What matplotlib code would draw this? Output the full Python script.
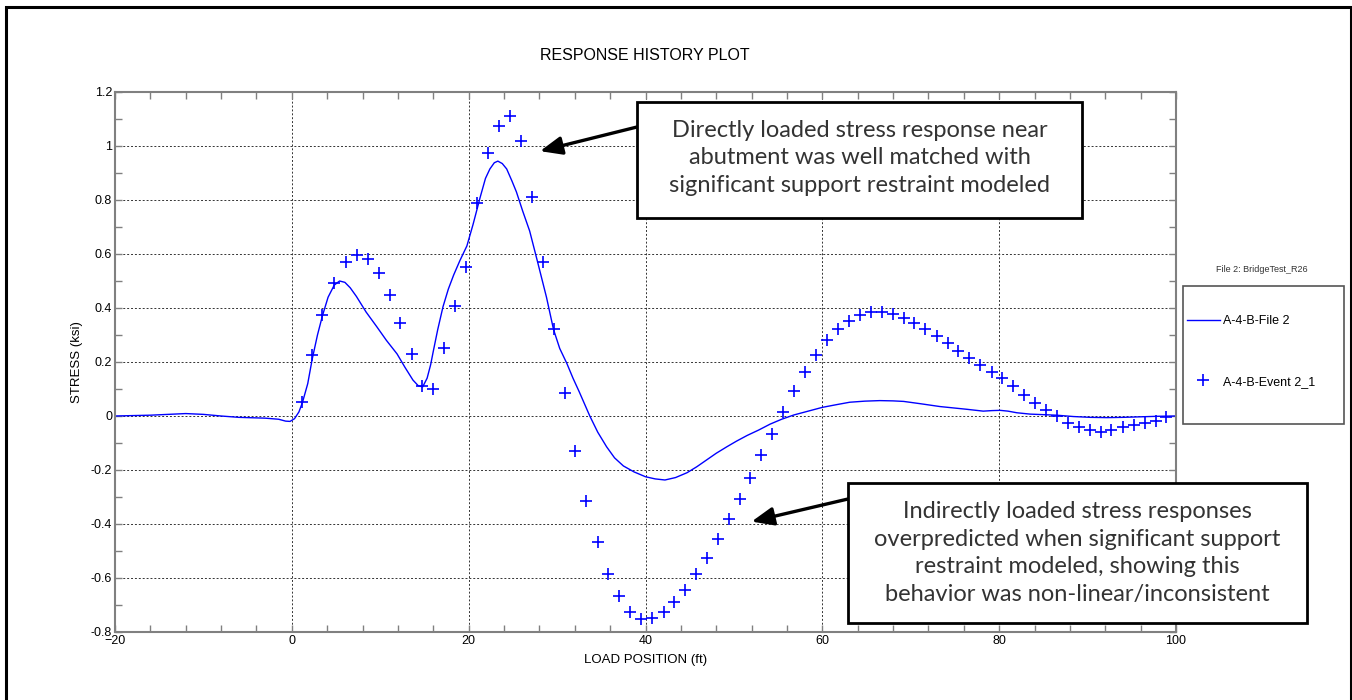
import numpy as np
import matplotlib.pyplot as plt
from matplotlib.patches import Rectangle
from matplotlib.ticker import MultipleLocator

# A-4-B-File 2 (model, solid line)
file_x = [-20, -16, -12, -10, -8, -6, -3, -1.5, -0.7, -0.2, 0.3, 0.8, 1.2, 1.8, 2.3, 2.9,
          3.45, 4.1, 4.8, 5.4, 6.0, 6.6, 7.3, 8.4, 9.6, 10.7, 11.9, 12.8, 13.7, 14.3, 14.8,
          15.3, 15.7, 16.0, 16.5, 17.1, 17.7, 18.3, 19.0, 19.8, 20.5, 21.3, 21.9, 22.4,
          22.9, 23.3, 23.8, 24.3, 24.9, 25.4, 26.1, 26.9, 27.8, 28.8, 29.6, 30.3, 31.1,
          31.8, 32.5, 33.7, 34.6, 35.6, 36.5, 37.5, 38.7, 40.0, 41.1, 42.2, 43.4, 44.7,
          45.8, 46.9, 48.0, 49.2, 50.3, 51.5, 52.8, 54.1, 55.4, 56.8, 58.4, 60.0, 61.6,
          63.1, 64.8, 66.5, 68.0, 69.2, 71.2, 73.3, 74.8, 76.3, 78.2, 79.2, 80.1, 81.0,
          82.0, 83.5, 86.5, 88.4, 90.3, 92.2, 94.0, 96.0, 98.0, 100]
file_y = [0.0, 0.003, 0.009, 0.006, 0.0, -0.005, -0.008, -0.012, -0.019, -0.02, -0.01,
          0.015, 0.05, 0.12, 0.21, 0.30, 0.37, 0.44, 0.485, 0.500, 0.495, 0.475, 0.443,
          0.385, 0.331, 0.28, 0.23, 0.18, 0.133, 0.112, 0.108, 0.14, 0.19, 0.24, 0.32,
          0.405, 0.47, 0.522, 0.575, 0.630, 0.71, 0.81, 0.88, 0.915, 0.938, 0.944, 0.935,
          0.915, 0.87, 0.83, 0.76, 0.685, 0.57, 0.44, 0.32, 0.25, 0.195, 0.14, 0.09, 0.0,
          -0.06, -0.114, -0.155, -0.185, -0.207, -0.225, -0.233, -0.237, -0.228, -0.21,
          -0.188, -0.163, -0.138, -0.114, -0.093, -0.072, -0.052, -0.03, -0.012, 0.004,
          0.018, 0.032, 0.042, 0.051, 0.055, 0.057, 0.056, 0.054, 0.045, 0.035, 0.03,
          0.025, 0.018, 0.02, 0.021, 0.018, 0.012, 0.007, 0.003, -0.002, -0.005, -0.006,
          -0.005, -0.003, -0.001, 0.0]

# A-4-B-Event 2_1 (measured, + markers)
event_x = [1.19, 2.32, 3.45, 4.81, 6.09, 7.37, 8.62, 9.82, 11.07, 12.27, 13.6, 14.76,
           15.97, 17.25, 18.49, 19.74, 20.98, 22.22, 23.4, 24.64, 25.88, 27.16, 28.45,
           29.6, 30.86, 32.06, 33.3, 34.6, 35.8, 37.04, 38.28, 39.49, 40.77, 42.06, 43.2,
           44.47, 45.7, 47.0, 48.2, 49.4, 50.65, 51.86, 53.1, 54.35, 55.55, 56.8, 58.07,
           59.3, 60.56, 61.75, 62.98, 64.26, 65.5, 66.75, 68.0, 69.2, 70.4, 71.65, 72.93,
           74.18, 75.38, 76.62, 77.87, 79.15, 80.35, 81.6, 82.8, 84.0, 85.26, 86.54, 87.8,
           89.06, 90.27, 91.5, 92.7, 93.97, 95.2, 96.46, 97.7, 98.9]
event_y = [0.051, 0.226, 0.374, 0.494, 0.569, 0.597, 0.581, 0.530, 0.447, 0.343, 0.228,
           0.112, 0.099, 0.251, 0.407, 0.553, 0.789, 0.973, 1.075, 1.112, 1.019, 0.812,
           0.569, 0.321, 0.086, -0.130, -0.314, -0.467, -0.585, -0.668, -0.725, -0.752,
           -0.748, -0.726, -0.690, -0.644, -0.586, -0.525, -0.456, -0.383, -0.307, -0.228,
           -0.144, -0.065, 0.015, 0.093, 0.162, 0.226, 0.280, 0.321, 0.351, 0.374, 0.384,
           0.384, 0.378, 0.363, 0.343, 0.321, 0.297, 0.272, 0.242, 0.214, 0.188, 0.164,
           0.142, 0.111, 0.078, 0.047, 0.021, 0.001, -0.026, -0.040, -0.053, -0.059,
           -0.053, -0.040, -0.032, -0.026, -0.017, -0.003]

note_top = ('Directly loaded stress response near\n'
            'abutment was well matched with\n'
            'significant support restraint modeled')
note_bottom = ('Indirectly loaded stress responses\n'
               'overpredicted when significant support\n'
               'restraint modeled, showing this\n'
               'behavior was non-linear/inconsistent')

W, H = 1352, 700
plt.rcParams['font.family'] = ['Liberation Sans', 'DejaVu Sans']

fig = plt.figure(figsize=(W / 100, H / 100), dpi=100)
ax = fig.add_axes([115 / W, 1 - 632 / H, (1176 - 115) / W, (632 - 92) / H])

ax.plot(file_x, file_y, color='#0000ff', lw=1.0, label='A-4-B-File 2')
ax.plot(event_x, event_y, ls='none', marker='+', ms=8, mew=1.2, color='#0000ff',
        label='A-4-B-Event 2_1')

ax.set_xlim(-20, 100)
ax.set_ylim(-0.8, 1.2)
ax.xaxis.set_major_locator(MultipleLocator(20))
ax.xaxis.set_minor_locator(MultipleLocator(4))
ax.yaxis.set_minor_locator(MultipleLocator(0.1))
ax.set_yticks(np.arange(-0.8, 1.21, 0.2))
ax.set_yticklabels(['-0.8', '-0.6', '-0.4', '-0.2', '0', '0.2', '0.4', '0.6', '0.8', '1', '1.2'])
ax.tick_params(which='both', direction='in', length=5, width=1, color='#808080',
               top=True, right=True, labelsize=9, pad=2)
for s in ax.spines.values():
    s.set_color('#808080')
    s.set_linewidth(1.5)
ax.grid(True, which='major', color='#333333', ls=(0, (2, 2)), lw=0.7)

ax.set_xlabel('LOAD POSITION (ft)', fontsize=9.5, labelpad=5)
ax.set_ylabel('STRESS (ksi)', fontsize=9.5, labelpad=6)
fig.text(645 / W, 1 - 55 / H, 'RESPONSE HISTORY PLOT', fontsize=11.5,
         ha='center', va='center')

# legend
fig.text(1262 / W, 1 - 270 / H, 'File 2: BridgeTest_R26', fontsize=6.5,
         ha='center', va='center', color='#333333')
fig.add_artist(Rectangle((1183 / W, 1 - 424 / H), (1344 - 1183) / W, (424 - 286) / H,
                         transform=fig.transFigure, fill=False, ec='#555555', lw=1.2))
ax.legend(loc='upper left', bbox_to_anchor=(1187 / W, 1 - 315 / H),
          bbox_transform=fig.transFigure, frameon=False, fontsize=9,
          handlelength=2.6, handletextpad=0.3, labelspacing=3.9, borderpad=0,
          borderaxespad=0, numpoints=1)

# annotation boxes
note_font = dict(family=['Lato', 'DejaVu Sans'], fontsize=17,
                 color='#333333', linespacing=1.38, ha='center', va='center')
fig.add_artist(Rectangle((637 / W, 1 - 218 / H), (1082 - 637) / W, (218 - 102) / H,
                         transform=fig.transFigure, fc='white', ec='black', lw=2, zorder=5))
fig.text(859.5 / W, 1 - 158 / H, note_top, zorder=6, **note_font)
fig.add_artist(Rectangle((848 / W, 1 - 623 / H), (1307 - 848) / W, (623 - 483) / H,
                         transform=fig.transFigure, fc='white', ec='black', lw=2, zorder=5))
fig.text(1077.5 / W, 1 - 553 / H, note_bottom, zorder=6, **note_font)

arrow = dict(arrowstyle='-|>,head_length=0.6,head_width=0.25', color='black',
             lw=2.4, mutation_scale=22, shrinkA=0, shrinkB=0)
ax.annotate('', xy=(28.07, 0.981), xytext=(637 / W, 1 - 127 / H),
            textcoords='figure fraction', arrowprops=arrow)
ax.annotate('', xy=(52.0, -0.391), xytext=(848 / W, 1 - 499 / H),
            textcoords='figure fraction', arrowprops=arrow)

# outer frame
fig.add_artist(Rectangle((5.5 / W, -0.05), (1350.5 - 5.5) / W, 1.05 - 7 / H,
                         transform=fig.transFigure, fill=False, ec='black', lw=2.2))

fig.savefig('out.png', dpi=100)
